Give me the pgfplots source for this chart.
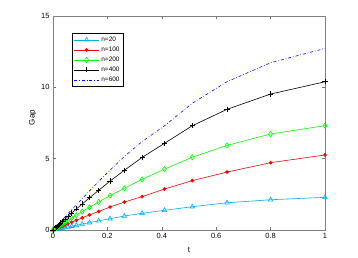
\documentclass[border=0pt]{standalone}
\usepackage{pgfplots}
\pgfplotsset{compat=1.18}
\usepackage{fontspec}
\setmainfont{Liberation Sans}
\begin{document}
\begin{tikzpicture}
\path[use as bounding box] (-53bp,-28bp) rectangle (305bp,230bp);
\begin{axis}[
  at={(0,0)}, anchor=south west,
  scale only axis, width=272bp, height=214bp,
  xmin=0, xmax=1, ymin=0, ymax=15,
  xtick={0,0.2,0.4,0.6,0.8,1}, ytick={0,5,10,15},
  xticklabels={0,0.2,0.4,0.6,0.8,1},
  tick align=inside,
  major tick length=3bp,
  axis line style={draw=black!50, line width=0.9bp},
  tick style={draw=black!55, line width=0.6bp},
  ticklabel style={font=\fontsize{7.5}{8}\selectfont},
  /pgf/number format/assume math mode=true,
  xlabel={t}, ylabel={Gap},
  label style={font=\fontsize{8}{9}\selectfont},
  xlabel style={at={(axis description cs:0.5,-0.093)}, anchor=center},
  ylabel style={at={(axis description cs:-0.075,0.525)}, anchor=center},
  legend style={at={(axis description cs:0.07,0.92)}, anchor=north west,
    draw=black, line width=0.5bp, font=\fontsize{6.5}{7.5}\selectfont,
    inner sep=1.5bp, row sep=0bp},
  legend cell align=left,
  legend image code/.code={\draw[mark repeat=2,mark phase=2] plot coordinates {(0bp,0bp) (12.5bp,0bp) (25bp,0bp)};},
]
\addplot[cyan, line width=0.6bp, mark=triangle, mark size=2.6bp, mark options={solid, line width=0.6bp}] coordinates {
(0,0) (0.011529,0.045) (0.014412,0.056) (0.018014,0.07) (0.022518,0.088) (0.028147,0.11) (0.035184,0.137)
(0.043980,0.171) (0.054976,0.214) (0.068719,0.266) (0.085899,0.333) (0.107374,0.415) (0.134218,0.515)
(0.167772,0.645) (0.209715,0.79) (0.262144,0.98) (0.32768,1.17) (0.4096,1.38) (0.512,1.63) (0.64,1.91) (0.8,2.12) (1,2.29)};
\addlegendentry{n=20}
\addplot[red, line width=0.6bp, mark=*, mark size=1.5bp] coordinates {
(0,0) (0.011529,0.092) (0.014412,0.115) (0.018014,0.144) (0.022518,0.18) (0.028147,0.225) (0.035184,0.28)
(0.043980,0.35) (0.054976,0.437) (0.068719,0.545) (0.085899,0.68) (0.107374,0.85) (0.134218,1.06)
(0.167772,1.3) (0.209715,1.61) (0.262144,1.96) (0.32768,2.34) (0.4096,2.87) (0.512,3.46) (0.64,4.06) (0.8,4.72) (1,5.26)};
\addlegendentry{n=100}
\addplot[green, line width=0.6bp, mark=diamond, mark size=2.6bp, mark options={solid, line width=0.6bp}] coordinates {
(0,0) (0.011529,0.142) (0.014412,0.178) (0.018014,0.222) (0.022518,0.277) (0.028147,0.345) (0.035184,0.43)
(0.043980,0.536) (0.054976,0.67) (0.068719,0.835) (0.085899,1.04) (0.107374,1.29) (0.134218,1.59)
(0.167772,1.96) (0.209715,2.41) (0.262144,2.92) (0.32768,3.55) (0.4096,4.27) (0.512,5.1) (0.64,5.93) (0.8,6.73) (1,7.31)};
\addlegendentry{n=200}
\addplot[black, line width=0.6bp, mark=+, mark size=2.6bp, mark options={solid, line width=0.6bp}] coordinates {
(0,0) (0.011529,0.202) (0.014412,0.253) (0.018014,0.316) (0.022518,0.394) (0.028147,0.492) (0.035184,0.614)
(0.043980,0.766) (0.054976,0.955) (0.068719,1.19) (0.085899,1.48) (0.107374,1.82) (0.134218,2.26)
(0.167772,2.78) (0.209715,3.43) (0.262144,4.18) (0.32768,5.09) (0.4096,6.07) (0.512,7.31) (0.64,8.46) (0.8,9.53) (1,10.39)};
\addlegendentry{n=400}
\addplot[blue, line width=0.6bp, dash dot, no marks] coordinates {
(0,0) (0.011529,0.242) (0.014412,0.302) (0.018014,0.377) (0.022518,0.471) (0.028147,0.587) (0.035184,0.733)
(0.043980,0.914) (0.054976,1.14) (0.068719,1.42) (0.085899,1.77) (0.107374,2.2) (0.134218,2.74)
(0.167772,3.4) (0.209715,4.2) (0.262144,5.15) (0.32768,6.2) (0.4096,7.3) (0.512,8.88) (0.64,10.4) (0.8,11.72) (1,12.73)};
\addlegendentry{n=600}
\end{axis}
\end{tikzpicture}
\end{document}
